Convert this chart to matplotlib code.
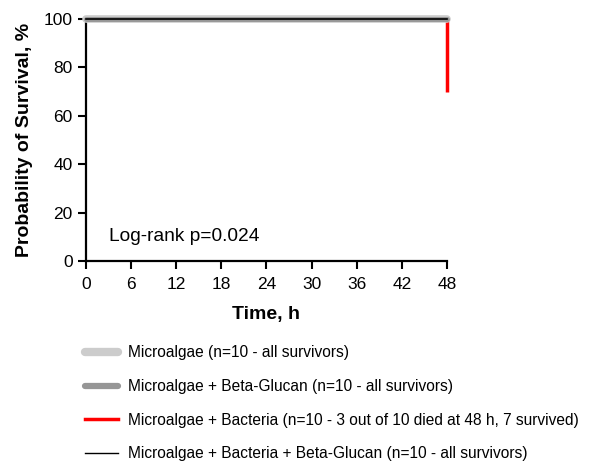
import matplotlib.pyplot as plt

plt.rcParams['font.family'] = ['Liberation Sans', 'DejaVu Sans']

# survival curves (time in h, survival in %)
t_alg = [0, 48]
s_alg = [100, 100]
t_alg_bg = [0, 48]
s_alg_bg = [100, 100]
t_alg_bac = [0, 48, 48]
s_alg_bac = [100, 100, 70]
t_alg_bac_bg = [0, 48]
s_alg_bac_bg = [100, 100]

labels = [
    'Microalgae (n=10 - all survivors)',
    'Microalgae + Beta-Glucan (n=10 - all survivors)',
    'Microalgae + Bacteria (n=10 - 3 out of 10 died at 48 h, 7 survived)',
    'Microalgae + Bacteria + Beta-Glucan (n=10 - all survivors)',
]

xticks = [0, 6, 12, 18, 24, 30, 36, 42, 48]
yticks = [0, 20, 40, 60, 80, 100]


def main():

    fig = plt.figure(figsize=(5.92, 4.62), dpi=100)
    ax = fig.add_axes([0.1453, 0.435, 0.6097, 0.5239])

    l3, = ax.plot(t_alg_bac, s_alg_bac, color='#ff0000', lw=2.5,
                  solid_capstyle='butt', clip_on=False, zorder=2)
    l1, = ax.plot(t_alg, s_alg, color='#cccccc', lw=5.5,
                  solid_capstyle='round', clip_on=False, zorder=3)
    l2, = ax.plot(t_alg_bg, s_alg_bg, color='#969696', lw=3.5,
                  solid_capstyle='round', clip_on=False, zorder=4)
    l4, = ax.plot(t_alg_bac_bg, s_alg_bac_bg, color='black', lw=1.2,
                  clip_on=False, zorder=5)

    ax.set_xlim(0, 48)
    ax.set_ylim(0, 100)
    ax.set_xticks(xticks)
    ax.set_yticks(yticks)
    ax.tick_params(direction='out', length=5.5, width=1.5, labelsize=12.5)
    ax.tick_params(axis='x', pad=6)
    ax.tick_params(axis='y', pad=4)
    for side in ['top', 'right']:
        ax.spines[side].set_visible(False)
    for side in ['left', 'bottom']:
        ax.spines[side].set_linewidth(1.6)

    ax.set_xlabel('Time, h', fontsize=14, fontweight='bold', labelpad=10)
    ax.set_ylabel('Probability of Survival, %', fontsize=14,
                  fontweight='bold', labelpad=8)

    ax.text(3, 10, 'Log-rank p=0.024', fontsize=13.8, va='center')

    # legend handles drawn with their own widths
    h1, = plt.plot([], [], color='#cccccc', lw=6, solid_capstyle='round')
    h2, = plt.plot([], [], color='#969696', lw=4.5, solid_capstyle='round')
    h3, = plt.plot([], [], color='#ff0000', lw=2.5)
    h4, = plt.plot([], [], color='black', lw=1)
    fig.legend([h1, h2, h3, h4], labels, loc='upper left',
               bbox_to_anchor=(0.133, 0.266), frameon=False, fontsize=11.2,
               handlelength=2.1, handletextpad=0.65, labelspacing=1.2,
               borderaxespad=0)

    fig.savefig('out.png', dpi=100)


if __name__ == "__main__":
    main()
